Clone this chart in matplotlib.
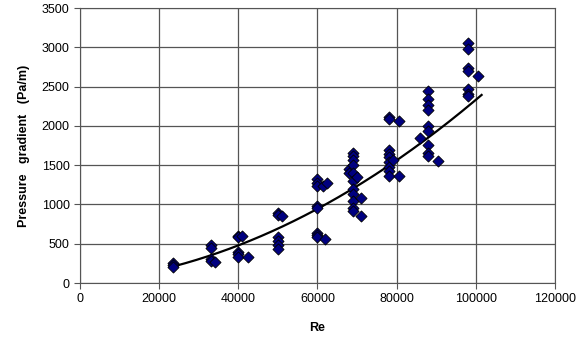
import matplotlib.pyplot as plt
import numpy as np

plt.rcParams['font.family'] = ['Liberation Sans', 'DejaVu Sans']

# Reynolds number and measured pressure gradient (Pa/m)
re = np.array([
    23500, 23500, 23500,
    33000, 33000, 33000, 33000, 34000,
    40000, 40000, 40000, 40000, 40000, 41000, 42500,
    50000, 50000, 50000, 50000, 50000, 50000, 51000,
    60000, 60000, 60000, 60000, 60000, 60000, 60000, 60000, 61500, 62000, 62500,
    68000, 68000,
    69000, 69000, 69000, 69000, 69000, 69000, 69000, 69000, 69000, 69000, 69000,
    70000, 71000, 71000,
    78000, 78000, 78000, 78000, 78000, 78000, 78000, 78000, 78000, 79000,
    80500, 80500, 86000,
    88000, 88000, 88000, 88000, 88000, 88000, 88000, 88000, 88000, 90500,
    98000, 98000, 98000, 98000, 98000, 98000, 98000, 100500,
])
dp = np.array([
    260, 230, 210,
    480, 450, 300, 280, 270,
    600, 590, 400, 370, 330, 600, 330,
    890, 860, 580, 540, 480, 430, 850,
    1330, 1270, 1230, 980, 960, 640, 610, 580, 1230, 560, 1270,
    1450, 1400,
    1660, 1620, 1560, 1500, 1400, 1300, 1200, 1130, 1050, 960, 920,
    1350, 1080, 850,
    2110, 2090, 1690, 1640, 1600, 1540, 1480, 1420, 1360, 1560,
    2060, 1360, 1850,
    2440, 2340, 2270, 2200, 2000, 1940, 1760, 1660, 1620, 1550,
    3060, 2980, 2740, 2700, 2470, 2400, 2380, 2630,
])

# 2nd order trendline
trend_coef = [1.9e-7, 0.00425, 5.0]
trend_re_start = 24000
trend_re_end = 101500

re_fit = np.linspace(trend_re_start, trend_re_end, 200)
dp_fit = np.polyval(trend_coef, re_fit)

fig = plt.figure(figsize=(5.84, 3.49), dpi=100)
ax = fig.add_axes([0.137, 0.189, 0.813, 0.788])

ax.plot(re_fit, dp_fit, color='black', linewidth=1.6, zorder=2)
ax.scatter(re, dp, marker='D', s=32, facecolor='#000080', edgecolor='black',
           linewidth=0.6, zorder=3)

ax.set_xlim(0, 120000)
ax.set_ylim(0, 3500)
ax.set_xticks(np.arange(0, 120001, 20000))
ax.set_yticks(np.arange(0, 3501, 500))
ax.grid(True, color='#555555', linewidth=0.9)
ax.set_axisbelow(True)
for s in ax.spines.values():
    s.set_color('#555555')
ax.tick_params(labelsize=9, length=4, color='#555555')

ax.set_xlabel('Re', fontsize=9, fontweight='bold', labelpad=12)
ax.set_ylabel('Pressure   gradient   (Pa/m)', fontsize=9, fontweight='bold', labelpad=8)

fig.savefig('out.png', dpi=100)
